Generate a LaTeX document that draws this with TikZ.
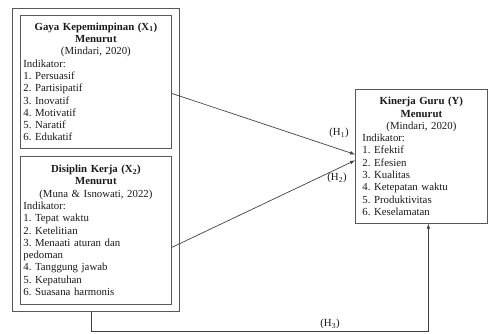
\documentclass[tikz,border=0pt]{standalone}
\usepackage{fontspec}
\setmainfont{Liberation Serif}
\usetikzlibrary{arrows, positioning, fit}
\tikzstyle{varBox} = [rectangle, draw=black!65, line width=0.8pt, text=black!90, align=left, inner xsep=3pt, inner ysep=2pt, font=\fontsize{10.8}{12.3}\selectfont\frenchspacing]
\tikzstyle{outerBox} = [rectangle, draw=black!65, line width=0.8pt, inner xsep=7.5pt, inner ysep=7pt]
\tikzstyle{hypo} = [text=black!90, font=\fontsize{10.8}{12.3}\selectfont]
\tikzstyle{arrow} = [line width=0.7pt, draw=black!75, -latex]

\begin{document}
\begin{tikzpicture} [x=1pt, y=-1pt]
        \useasboundingbox (0,0) rectangle (490,333);

        \node (gaya) [varBox, anchor=north west, text width=145pt, minimum height=133pt] at (20,15) {{\centering\textbf{Gaya Kepemimpinan (X\textsubscript{1})}\\\textbf{Menurut}\\(Mindari, 2020)\par}
        Indikator:\\1. Persuasif\\2. Partisipatif\\3. Inovatif\\4. Motivatif\\5. Naratif\\6. Edukatif};
        \node (disiplin) [varBox, anchor=north west, text width=145pt, minimum height=148pt] at (20,156) {{\centering\textbf{Disiplin Kerja (X\textsubscript{2})}\\\textbf{Menurut}\\(Muna \& Isnowati, 2022)\par}
        Indikator:\\1. Tepat waktu\\2. Ketelitian\\3. Menaati aturan dan\\pedoman\\4. Tanggung jawab\\5. Kepatuhan\\6. Suasana harmonis};
        \node (outer) [outerBox, fit=(gaya)(disiplin)] {};

        \node (kinerja) [varBox, anchor=north west, text width=118pt, inner xsep=7pt, minimum height=134pt] at (355,89) {{\centering\textbf{Kinerja Guru (Y)}\\\textbf{Menurut}\\(Mindari, 2020)\par}
        Indikator:\\1. Efektif\\2. Efesien\\3. Kualitas\\4. Ketepatan waktu\\5. Produktivitas\\6. Keselamatan};

        \node (h1) [hypo] at (339,133) {(H\textsubscript{1})};
        \node (h2) [hypo] at (337,178) {(H\textsubscript{2})};
        \node (h3) [hypo] at (330,324) {(H\textsubscript{3})};
        \coordinate (bend) at (91,331);

        \draw[arrow] ([yshift=-11.5pt]gaya.east) -- ([yshift=2pt]kinerja.west);
        \draw[arrow] ([yshift=-17pt]disiplin.east) -- ([yshift=-4pt]kinerja.west);
        \draw[arrow] (outer.south -| bend) -- (bend) -| ([xshift=7pt]kinerja.south);

    \end{tikzpicture}
\end{document}
